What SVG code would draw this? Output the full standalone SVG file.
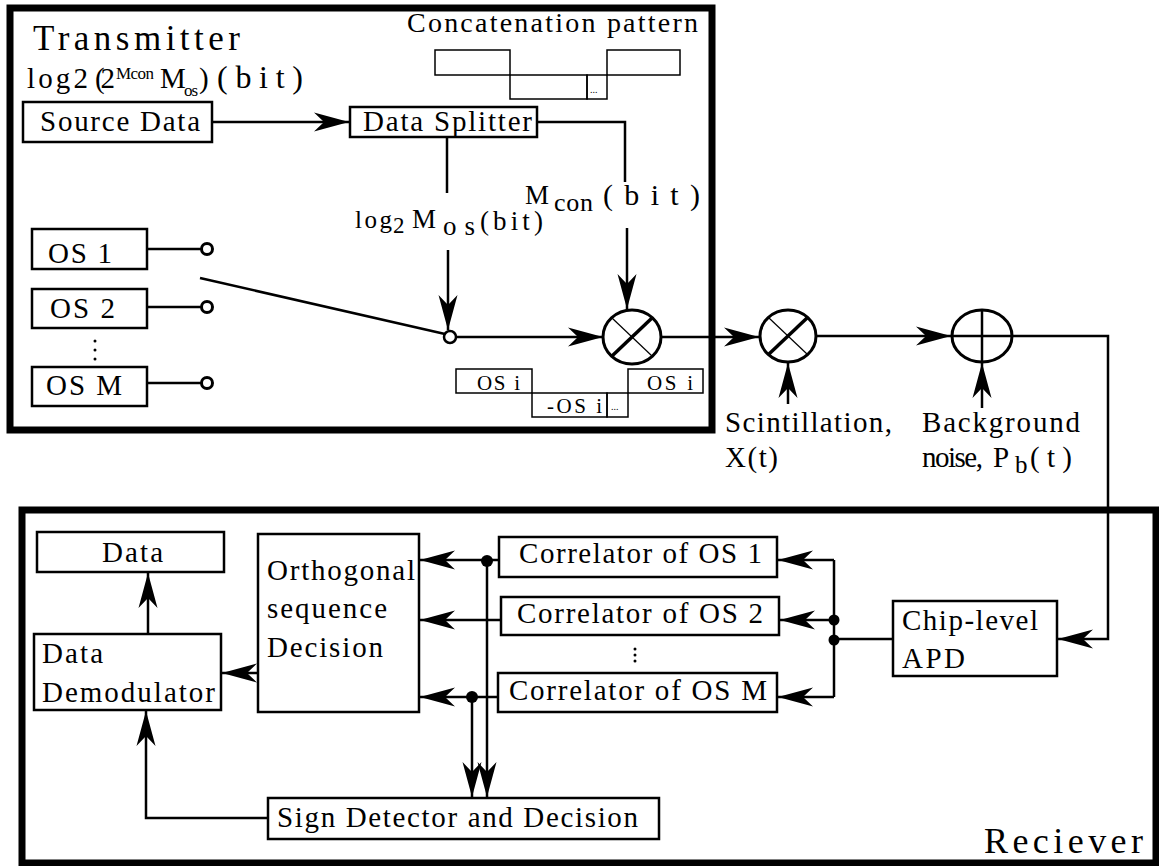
<svg xmlns="http://www.w3.org/2000/svg" width="1159" height="866" viewBox="0 0 1159 866" font-family="Liberation Serif">
<style>
svg text, text.f{font-family:'Liberation Serif' !important}
.box{fill:#fff;stroke:#000;stroke-width:2.5}
.thin{fill:none;stroke:#000;stroke-width:1.5}
.frame{fill:none;stroke:#000;stroke-width:7}
.c{fill:none;stroke:#000;stroke-width:2.5}
.ca{fill:none;stroke:#000;stroke-width:2.5;marker-end:url(#ah)}
.dot{fill:#000}
</style>
<defs>
<marker id="ah" markerUnits="userSpaceOnUse" markerWidth="40" markerHeight="24" viewBox="-37 -12 40 24" refX="0" refY="0" orient="auto">
<path d="M0,0 L-35,-9.5 L-25,0 L-35,9.5 Z" fill="#000"/>
</marker>
</defs>
<rect width="1159" height="866" fill="#fff"/>

<g id="transmitter" font-family="Liberation Serif">
<rect class="frame" x="10" y="8" width="702" height="422"/>
<text font-family="Liberation Serif" x="33" y="50" font-size="35" textLength="207" lengthAdjust="spacing">Transmitter</text>
<text font-family="Liberation Serif" x="27" y="88" font-size="29" textLength="61" lengthAdjust="spacing">log2</text>
<text font-family="Liberation Serif" x="95" y="88" font-size="29" textLength="20" lengthAdjust="spacing">(2</text>
<text font-family="Liberation Serif" x="116" y="79" font-size="17" textLength="38" lengthAdjust="spacing">Mcon</text>
<text font-family="Liberation Serif" x="160" y="88" font-size="29" textLength="22" lengthAdjust="spacing">M</text>
<text font-family="Liberation Serif" x="184" y="96" font-size="17" textLength="14" lengthAdjust="spacing">os</text>
<text font-family="Liberation Serif" x="199" y="88" font-size="29">)</text>
<text font-family="Liberation Serif" x="217" y="88" font-size="32" textLength="86" lengthAdjust="spacing">(bit)</text>
</g>

<g id="source-data" font-family="Liberation Serif">
<rect class="box" x="23" y="102" width="189" height="40"/>
<text font-family="Liberation Serif" x="40" y="131" font-size="29" textLength="160" lengthAdjust="spacing">Source Data</text>
</g>

<g id="data-splitter" font-family="Liberation Serif">
<rect class="box" x="350" y="107" width="187" height="30"/>
<text font-family="Liberation Serif" x="363" y="131" font-size="29" textLength="169" lengthAdjust="spacing">Data Splitter</text>
</g>

<g id="concatenation-pattern" font-family="Liberation Serif">
<text font-family="Liberation Serif" x="407" y="32" font-size="28" textLength="291" lengthAdjust="spacing">Concatenation pattern</text>
<rect class="thin" x="435" y="50" width="75" height="25"/>
<rect class="thin" x="510" y="75" width="77" height="24"/>
<rect class="thin" x="587" y="75" width="20" height="24"/>
<rect class="thin" x="607" y="50" width="73" height="25"/>
<text font-family="Liberation Serif" x="590" y="93" font-size="10">...</text>
</g>

<g id="os1" font-family="Liberation Serif">
<rect class="box" x="32" y="229" width="115" height="40"/>
<text font-family="Liberation Serif" x="48" y="263" font-size="29" textLength="64" lengthAdjust="spacing">OS 1</text>
</g>
<g id="os2" font-family="Liberation Serif">
<rect class="box" x="32" y="289" width="115" height="39"/>
<text font-family="Liberation Serif" x="50" y="318" font-size="29" textLength="65" lengthAdjust="spacing">OS 2</text>
</g>
<g id="os-dots">
<circle class="dot" cx="95" cy="341" r="1.5"/>
<circle class="dot" cx="95" cy="350" r="1.5"/>
<circle class="dot" cx="95" cy="359" r="1.5"/>
</g>
<g id="osM" font-family="Liberation Serif">
<rect class="box" x="32" y="367" width="115" height="39"/>
<text font-family="Liberation Serif" x="46" y="395" font-size="29" textLength="76" lengthAdjust="spacing">OS M</text>
</g>

<g id="switch">
<circle cx="207" cy="249" r="5.5" fill="#fff" stroke="#000" stroke-width="3"/>
<circle cx="207" cy="307" r="5.5" fill="#fff" stroke="#000" stroke-width="3"/>
<circle cx="207" cy="383" r="5.5" fill="#fff" stroke="#000" stroke-width="3"/>
<circle cx="450" cy="337" r="6" fill="#fff" stroke="#000" stroke-width="2.5"/>
</g>

<g id="label-mos" font-family="Liberation Serif">
<text font-family="Liberation Serif" x="355" y="228" font-size="25" textLength="37" lengthAdjust="spacing">log</text>
<text font-family="Liberation Serif" x="393" y="233" font-size="23">2</text>
<text font-family="Liberation Serif" x="412" y="228" font-size="27" textLength="28" lengthAdjust="spacing">M</text>
<text font-family="Liberation Serif" x="443" y="235" font-size="27" textLength="32" lengthAdjust="spacing">os</text>
<text font-family="Liberation Serif" x="480" y="230" font-size="27" textLength="63" lengthAdjust="spacing">(bit)</text>
</g>

<g id="label-mcon" font-family="Liberation Serif">
<text font-family="Liberation Serif" x="525" y="204" font-size="27" textLength="25" lengthAdjust="spacing">M</text>
<text font-family="Liberation Serif" x="554" y="211" font-size="26" textLength="39" lengthAdjust="spacing">con</text>
<text font-family="Liberation Serif" x="603" y="205" font-size="30" textLength="97" lengthAdjust="spacing">(bit)</text>
</g>

<g id="mult1">
<ellipse cx="632" cy="337" rx="29" ry="27" fill="#fff" stroke="#000" stroke-width="3"/>
<line x1="612" y1="318" x2="652" y2="356" stroke="#000" stroke-width="1.2"/>
<line x1="612" y1="356" x2="652" y2="318" stroke="#000" stroke-width="3.5"/>
</g>

<g id="osi-pattern" font-family="Liberation Serif">
<rect class="thin" x="456" y="369" width="76" height="24"/>
<rect class="thin" x="532" y="393" width="75" height="24"/>
<rect class="thin" x="607" y="393" width="21" height="24"/>
<rect class="thin" x="628" y="369" width="75" height="24"/>
<text font-family="Liberation Serif" x="477" y="390" font-size="21" textLength="43" lengthAdjust="spacing">OS i</text>
<text font-family="Liberation Serif" x="547" y="413" font-size="21" textLength="55" lengthAdjust="spacing">-OS i</text>
<text font-family="Liberation Serif" x="611" y="410" font-size="10">...</text>
<text font-family="Liberation Serif" x="647" y="390" font-size="21" textLength="46" lengthAdjust="spacing">OS i</text>
</g>

<g id="mult2">
<ellipse cx="788" cy="336" rx="28" ry="26" fill="#fff" stroke="#000" stroke-width="3"/>
<line x1="769" y1="318" x2="807" y2="354" stroke="#000" stroke-width="1.2"/>
<line x1="769" y1="354" x2="807" y2="318" stroke="#000" stroke-width="3.5"/>
</g>
<g id="scintillation" font-family="Liberation Serif">
<text font-family="Liberation Serif" x="725" y="432" font-size="29" textLength="167" lengthAdjust="spacing">Scintillation,</text>
<text font-family="Liberation Serif" x="725" y="467" font-size="29" textLength="53" lengthAdjust="spacing">X(t)</text>
</g>

<g id="adder">
<ellipse cx="982" cy="336" rx="30" ry="26" fill="#fff" stroke="#000" stroke-width="3"/>
<line x1="952" y1="336" x2="1012" y2="336" stroke="#000" stroke-width="2.5"/>
<line x1="982" y1="310" x2="982" y2="362" stroke="#000" stroke-width="2.5"/>
</g>
<g id="background-noise" font-family="Liberation Serif">
<text font-family="Liberation Serif" x="922" y="432" font-size="29" textLength="158" lengthAdjust="spacing">Background</text>
<text font-family="Liberation Serif" x="922" y="467" font-size="29" textLength="61" lengthAdjust="spacing">noise,</text>
<text font-family="Liberation Serif" x="993" y="467" font-size="29" textLength="21" lengthAdjust="spacing">P</text>
<text font-family="Liberation Serif" x="1015" y="473" font-size="25">b</text>
<text font-family="Liberation Serif" x="1030" y="467" font-size="29" textLength="42" lengthAdjust="spacing">(t)</text>
</g>

<g id="receiver" font-family="Liberation Serif">
<rect class="frame" x="22" y="510" width="1134" height="353"/>
<text font-family="Liberation Serif" x="984" y="853" font-size="36" textLength="159" lengthAdjust="spacing">Reciever</text>
</g>

<g id="apd" font-family="Liberation Serif">
<rect class="box" x="893" y="601" width="164" height="75"/>
<text font-family="Liberation Serif" x="902" y="630" font-size="29" textLength="136" lengthAdjust="spacing">Chip-level</text>
<text font-family="Liberation Serif" x="902" y="668" font-size="29" textLength="63" lengthAdjust="spacing">APD</text>
</g>

<g id="corr1" font-family="Liberation Serif">
<rect class="box" x="499" y="537" width="278" height="40"/>
<text font-family="Liberation Serif" x="519" y="563" font-size="29" textLength="243" lengthAdjust="spacing">Correlator of OS 1</text>
</g>
<g id="corr2" font-family="Liberation Serif">
<rect class="box" x="501" y="597" width="278" height="38"/>
<text font-family="Liberation Serif" x="517" y="623" font-size="29" textLength="246" lengthAdjust="spacing">Correlator of OS 2</text>
</g>
<g id="corr-dots">
<circle class="dot" cx="635" cy="649" r="1.5"/>
<circle class="dot" cx="635" cy="655" r="1.5"/>
<circle class="dot" cx="635" cy="661" r="1.5"/>
</g>
<g id="corrM" font-family="Liberation Serif">
<rect class="box" x="498" y="673" width="279" height="39"/>
<text font-family="Liberation Serif" x="509" y="700" font-size="29" textLength="258" lengthAdjust="spacing">Correlator of OS M</text>
</g>

<g id="orthogonal-decision" font-family="Liberation Serif">
<rect class="box" x="258" y="534" width="161" height="178"/>
<text font-family="Liberation Serif" x="267" y="580" font-size="29" textLength="148" lengthAdjust="spacing">Orthogonal</text>
<text font-family="Liberation Serif" x="267" y="618" font-size="29" textLength="120" lengthAdjust="spacing">sequence</text>
<text font-family="Liberation Serif" x="267" y="657" font-size="29" textLength="116" lengthAdjust="spacing">Decision</text>
</g>

<g id="data-out" font-family="Liberation Serif">
<rect class="box" x="37" y="532" width="187" height="40"/>
<text font-family="Liberation Serif" x="102" y="562" font-size="29" textLength="61" lengthAdjust="spacing">Data</text>
</g>

<g id="data-demodulator" font-family="Liberation Serif">
<rect class="box" x="34" y="634" width="187" height="76"/>
<text font-family="Liberation Serif" x="42" y="663" font-size="29" textLength="61" lengthAdjust="spacing">Data</text>
<text font-family="Liberation Serif" x="42" y="702" font-size="29" textLength="173" lengthAdjust="spacing">Demodulator</text>
</g>

<g id="sign-detector" font-family="Liberation Serif">
<rect class="box" x="268" y="798" width="391" height="41"/>
<text font-family="Liberation Serif" x="277" y="827" font-size="29" textLength="361" lengthAdjust="spacing">Sign Detector and Decision</text>
</g>

<g id="connectors">
<path class="ca" d="M212,122 H349"/>
<path class="c" d="M537,122 H625 V182" stroke-width="3.5"/>
<path class="c" d="M447,137 V193"/>
<path class="ca" d="M448,250 V330"/>
<path class="ca" d="M627,228 V309" stroke-width="2"/>
<path class="c" d="M147,249 H201"/>
<path class="c" d="M147,307 H201"/>
<path class="c" d="M147,383 H201"/>
<path class="c" d="M200,278 L445,334" stroke-width="3"/>
<path class="ca" d="M456,337 H603"/>
<path class="ca" d="M661,337 H759"/>
<path class="ca" d="M816,336 H951"/>
<path class="ca" d="M788,404 V363"/>
<path class="ca" d="M982,408 V363"/>
<path class="ca" d="M1012,336 H1108 V639 H1058" stroke-width="3"/>
<path class="c" d="M893,639 H834"/>
<path class="c" d="M834,560 V697"/>
<path class="ca" d="M834,560 H778"/>
<path class="ca" d="M834,620 H780"/>
<path class="ca" d="M834,697 H778"/>
<circle class="dot" cx="834" cy="620" r="5.5"/>
<circle class="dot" cx="834" cy="640" r="5.5"/>
<path class="ca" d="M499,560 H420"/>
<path class="ca" d="M501,620 H420"/>
<path class="ca" d="M498,697 H420"/>
<circle class="dot" cx="487" cy="561" r="6"/>
<circle class="dot" cx="472" cy="697" r="6"/>
<path class="ca" d="M487,561 V797" stroke-width="3"/>
<path class="ca" d="M472,697 V797" stroke-width="3"/>
<path class="ca" d="M258,673 H222"/>
<path class="ca" d="M148,634 V573"/>
<path class="ca" d="M268,818 H146 V711"/>
</g>
</svg>
